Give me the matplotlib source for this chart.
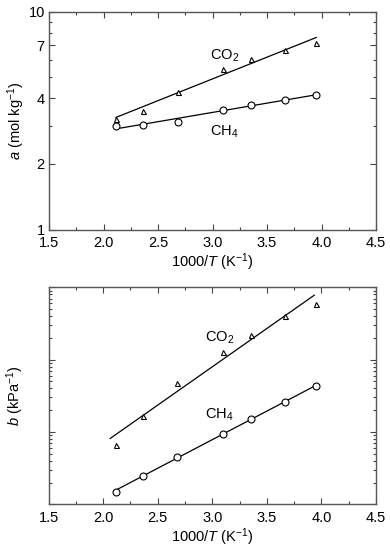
import numpy as np
import matplotlib
matplotlib.use("Agg")
import matplotlib.pyplot as plt
from matplotlib.ticker import FixedLocator, NullFormatter

plt.rcParams['font.family'] = ['Liberation Sans', 'DejaVu Sans']
plt.rcParams['mathtext.fontset'] = 'custom'
plt.rcParams['mathtext.rm'] = 'Liberation Sans'
plt.rcParams['mathtext.it'] = 'Liberation Sans:italic'
plt.rcParams['font.size'] = 10

# temperatures (K) -> 1000/T
temps = np.array([473, 423, 373, 323, 298, 273, 253])
inv_t = 1000.0 / temps

# Langmuir a (mol/kg)
a_co2 = [3.23, 3.51, 4.28, 5.47, 6.08, 6.64, 7.17]
a_ch4 = [2.98, 3.01, 3.13, 3.54, 3.71, 3.95, 4.16]

# Langmuir b (kPa^-1)
b_co2 = [6.6e-4, 1.67e-3, 4.7e-3, 1.28e-2, 2.19e-2, 4.07e-2, 5.92e-2]
b_ch4 = [1.49e-4, 2.48e-4, 4.57e-4, 9.5e-4, 1.50e-3, 2.59e-3, 4.34e-3]

a_ticks = [1, 2, 4, 7, 10]
x_ticks = [1.5, 2.0, 2.5, 3.0, 3.5, 4.0, 4.5]


def fit_line(ax, x, y, x0=None, x1=None):
    k, c = np.polyfit(x, np.log10(y), 1)
    x0 = min(x) if x0 is None else x0
    x1 = max(x) if x1 is None else x1
    xx = np.array([x0, x1])
    ax.plot(xx, 10 ** (k * xx + c), color='black', lw=0.9)


def style(ax):
    ax.set_xlim(1.5, 4.5)
    ax.set_xticks(x_ticks)
    ax.set_xticklabels([f'{v:.1f}' for v in x_ticks])
    ax.xaxis.set_minor_locator(FixedLocator(np.arange(1.75, 4.5, 0.5)))
    ax.tick_params(which='both', direction='in', top=True, right=True,
                   color='#444444', width=0.8)
    ax.tick_params(which='major', length=4, labelsize=10.5)
    ax.tick_params(which='minor', length=2)
    ax.tick_params(axis='x', which='major', pad=5)
    ax.tick_params(axis='y', which='major', pad=3)
    for s in ax.spines.values():
        s.set_color('#555555')
        s.set_linewidth(1.0)
    ax.set_xlabel('1000/$T$ (K$^{-1}$)', fontsize=10.5, labelpad=1)
    ax.yaxis.set_label_coords(-0.068, 0.5)


fig = plt.figure(figsize=(3.9, 5.5), dpi=100)
ax1 = fig.add_axes([49 / 390, 1 - 229.5 / 550, 327 / 390, 217.8 / 550])
ax2 = fig.add_axes([48.5 / 390, 1 - 504.3 / 550, 327.5 / 390, 217 / 550])

# top: a
ax1.set_yscale('log')
fit_line(ax1, inv_t, a_co2)
fit_line(ax1, inv_t, a_ch4)
ax1.plot(inv_t, a_co2, '^', ms=3.6, mfc='white', mec='black', mew=0.8)
ax1.plot(inv_t, a_ch4, 'o', ms=5.0, mfc='white', mec='black', mew=0.8)
ax1.set_ylim(1, 10)
ax1.yaxis.set_major_locator(FixedLocator(a_ticks))
ax1.set_yticklabels([str(v) for v in a_ticks])
ax1.yaxis.set_minor_locator(FixedLocator([3, 5, 6, 8, 9]))
ax1.yaxis.set_minor_formatter(NullFormatter())
ax1.set_ylabel('$a$ (mol kg$^{-1}$)', fontsize=10.5)
ax1.text(2.98, 6.3, 'CO$_2$', fontsize=10.5, va='center')
ax1.text(2.98, 2.8, 'CH$_4$', fontsize=10.5, va='center')
style(ax1)

# bottom: b
ax2.set_yscale('log')
fit_line(ax2, inv_t, b_co2, 2.065, 3.935)
fit_line(ax2, inv_t, b_ch4)
ax2.plot(inv_t, b_co2, '^', ms=3.6, mfc='white', mec='black', mew=0.8)
ax2.plot(inv_t, b_ch4, 'o', ms=5.0, mfc='white', mec='black', mew=0.8)
ax2.set_ylim(1e-4, 1e-1)
ax2.yaxis.set_major_formatter(NullFormatter())
ax2.yaxis.set_minor_formatter(NullFormatter())
ax2.set_ylabel('$b$ (kPa$^{-1}$)', fontsize=10.5)
ax2.text(2.93, 2.0e-2, 'CO$_2$', fontsize=10.5, va='center')
ax2.text(2.93, 1.75e-3, 'CH$_4$', fontsize=10.5, va='center')
style(ax2)

fig.savefig('out.png', dpi=100)
